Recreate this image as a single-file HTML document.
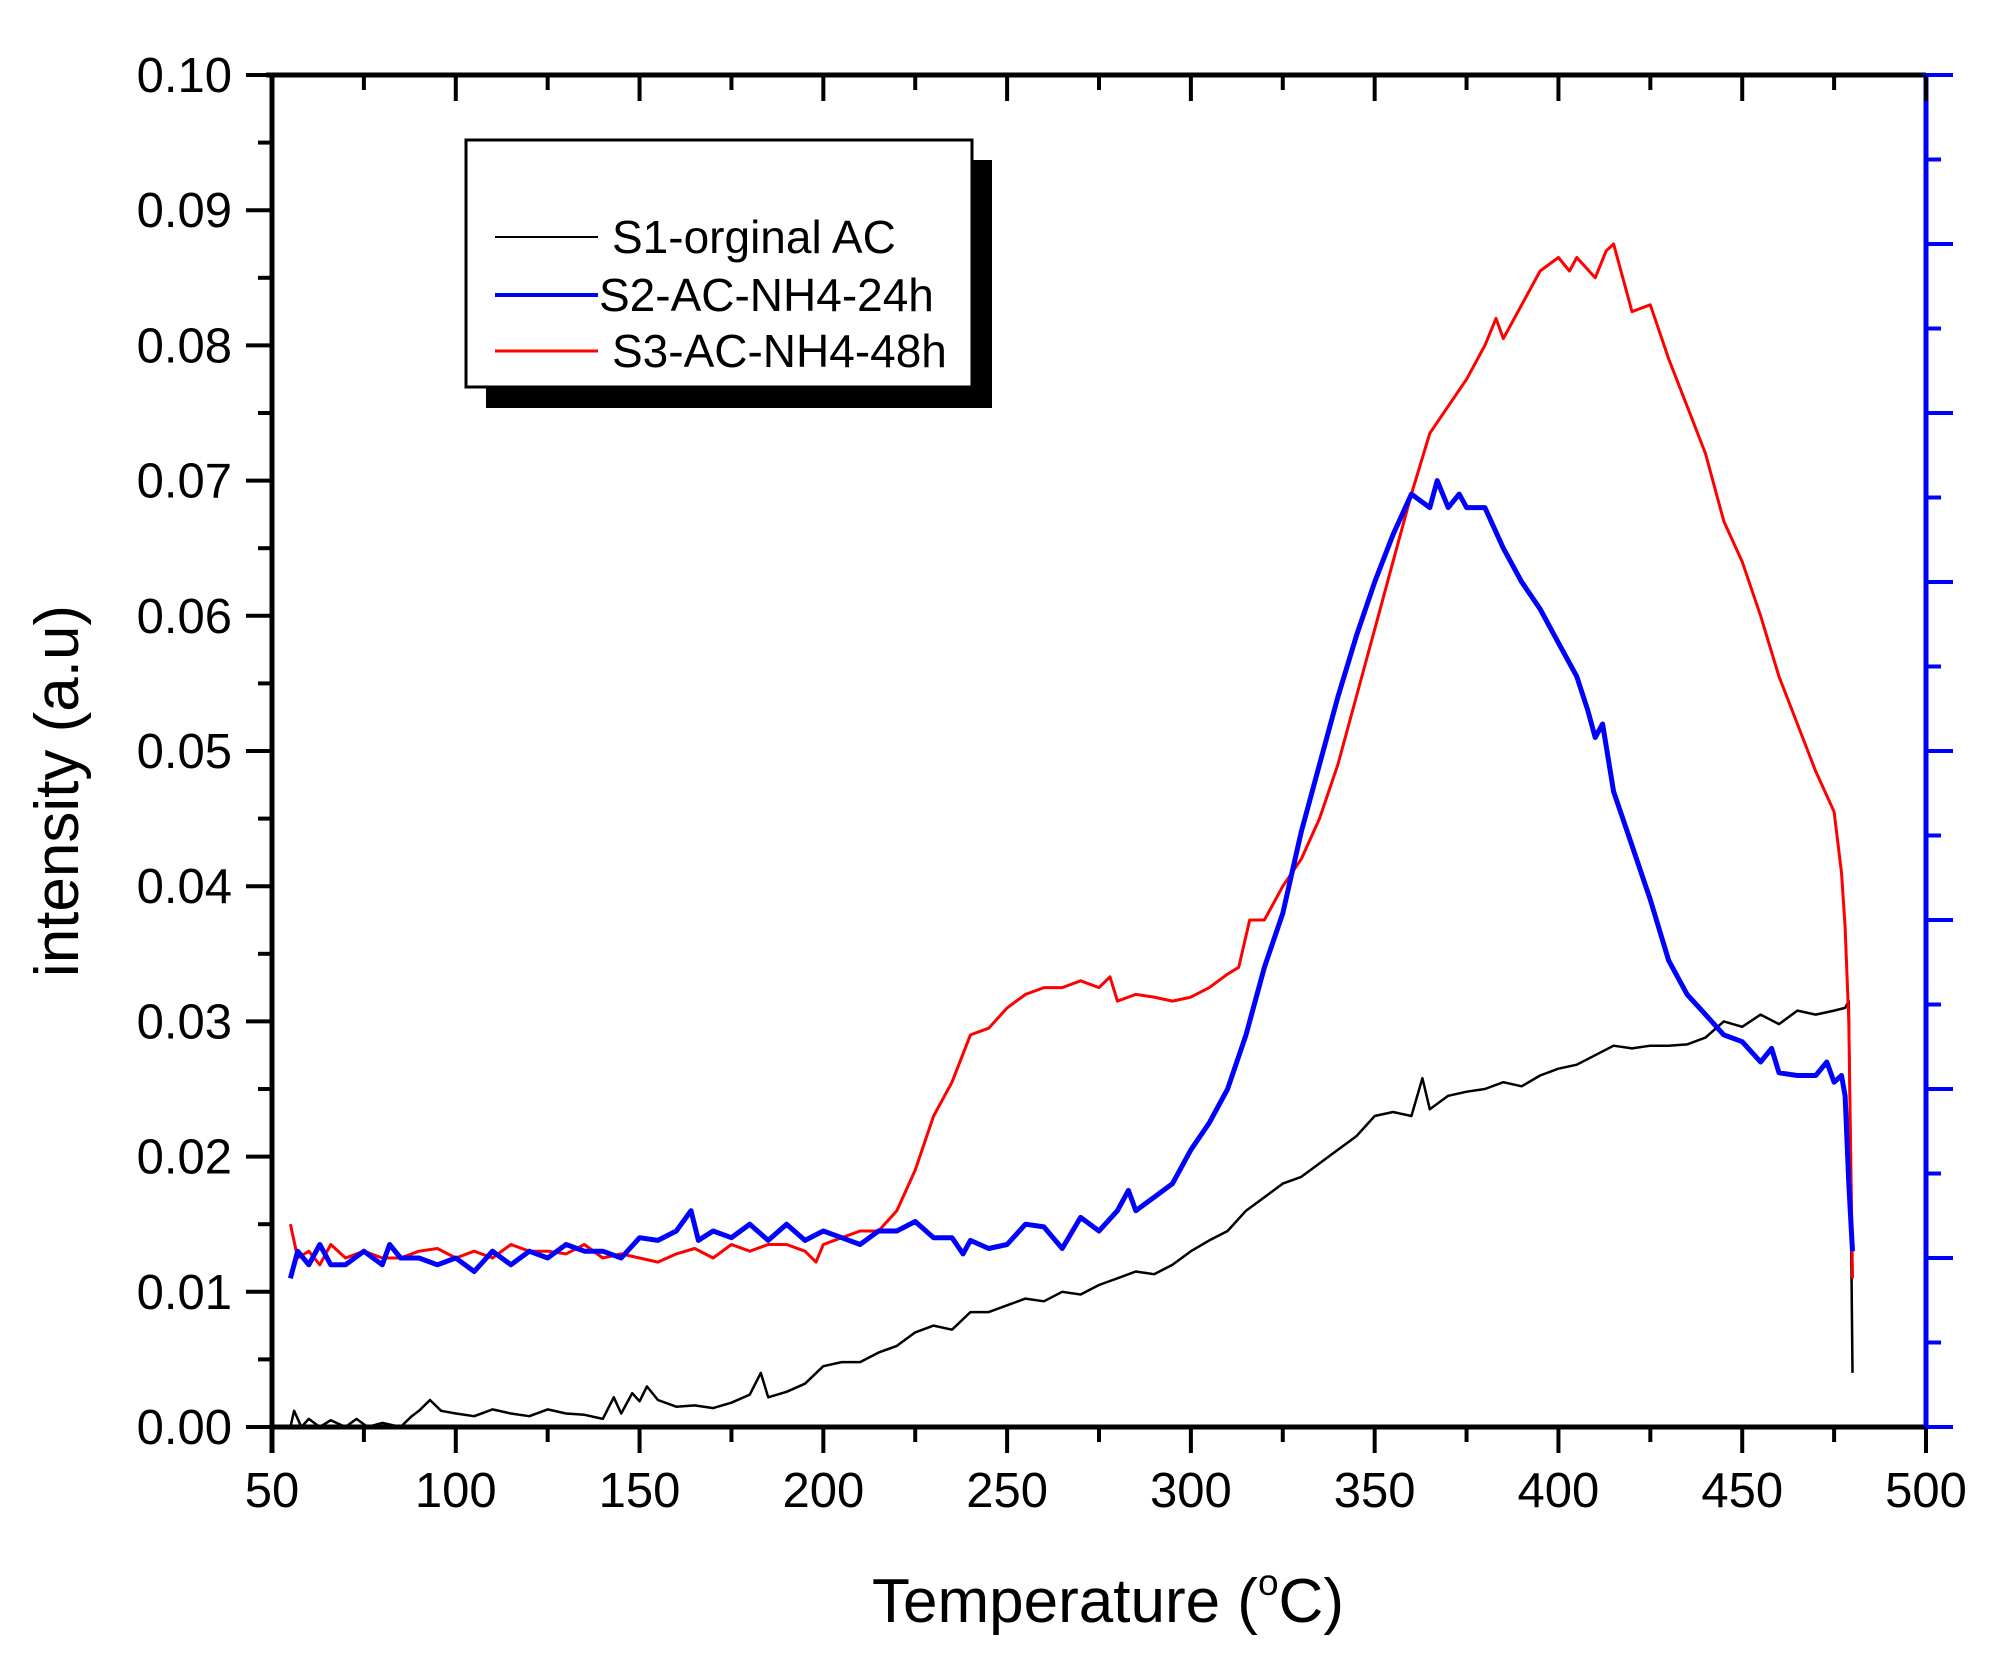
<!DOCTYPE html>
<html><head><meta charset="utf-8">
<style>
html,body{margin:0;padding:0;background:#fff;}
svg{display:block;font-family:"Liberation Sans",Arial,sans-serif;}
</style></head>
<body>
<svg id="chart" width="2008" height="1672" viewBox="0 0 2008 1672" xmlns="http://www.w3.org/2000/svg">
<g id="series"></g>
<g id="axes"></g>
<g>
<rect x="486" y="160" width="506" height="248" fill="#000"/>
<rect x="466" y="140" width="506" height="247" fill="#fff" stroke="#000" stroke-width="3"/>
<line x1="495" y1="237" x2="598" y2="237" stroke="#000" stroke-width="2"/>
<text x="612" y="253" font-size="46">S1-orginal AC</text>
<line x1="495" y1="295" x2="598" y2="295" stroke="#0000ff" stroke-width="4"/>
<text x="599" y="311" font-size="46">S2-AC-NH4-24h</text>
<line x1="495" y1="351" x2="598" y2="351" stroke="#ff0000" stroke-width="3"/>
<text x="612" y="367" font-size="46">S3-AC-NH4-48h</text>
</g>
<text x="1108" y="1622" font-size="62" text-anchor="middle">Temperature (<tspan font-size="37" dy="-27">o</tspan><tspan dy="27">C)</tspan></text>
<text transform="translate(78,791) rotate(-90)" font-size="62" text-anchor="middle">intensity (a.u)</text>
</svg>
<script>
const xTicks=[50,100,150,200,250,300,350,400,450,500];
const yTicks=[0,0.01,0.02,0.03,0.04,0.05,0.06,0.07,0.08,0.09,0.10];
const s1T=[55,56,58,60,63,66,70,73,76,80,85,88,90,93,96,100,105,110,115,120,125,130,135,140,143,145,148,150,152,155,160,165,170,175,180,183,185,190,195,200,205,210,215,220,225,230,235,240,245,250,255,260,265,270,275,280,285,290,295,300,305,310,315,320,325,330,335,340,345,350,355,360,363,365,370,375,380,385,390,395,400,405,410,415,420,425,430,435,440,445,450,455,460,465,470,475,478,479,480];
const s1V=[0,0.0012,0,0.0006,0,0.0005,0,0.0006,0,0.0003,0,0.0008,0.0012,0.002,0.0012,0.001,0.0008,0.0013,0.001,0.0008,0.0013,0.001,0.0009,0.0006,0.0022,0.001,0.0025,0.0019,0.003,0.002,0.0015,0.0016,0.0014,0.0018,0.0024,0.004,0.0022,0.0026,0.0032,0.0045,0.0048,0.0048,0.0055,0.006,0.007,0.0075,0.0072,0.0085,0.0085,0.009,0.0095,0.0093,0.01,0.0098,0.0105,0.011,0.0115,0.0113,0.012,0.013,0.0138,0.0145,0.016,0.017,0.018,0.0185,0.0195,0.0205,0.0215,0.023,0.0233,0.023,0.0258,0.0235,0.0245,0.0248,0.025,0.0255,0.0252,0.026,0.0265,0.0268,0.0275,0.0282,0.028,0.0282,0.0282,0.0283,0.0288,0.03,0.0296,0.0305,0.0298,0.0308,0.0305,0.0308,0.031,0.0315,0.004];
const s2T=[55,57,60,63,66,70,75,80,82,85,90,95,100,105,110,115,120,125,130,135,140,145,150,155,160,164,166,170,175,180,185,190,195,200,205,210,215,220,225,230,235,238,240,245,250,255,260,265,270,275,280,283,285,290,295,300,305,310,315,320,325,330,335,340,345,350,355,360,365,367,370,373,375,380,385,390,395,400,405,408,410,412,415,420,425,430,435,440,445,450,455,458,460,465,470,473,475,477,478,479,480];
const s2V=[0.011,0.013,0.012,0.0135,0.012,0.012,0.013,0.012,0.0135,0.0125,0.0125,0.012,0.0125,0.0115,0.013,0.012,0.013,0.0125,0.0135,0.013,0.013,0.0125,0.014,0.0138,0.0145,0.016,0.0138,0.0145,0.014,0.015,0.0138,0.015,0.0138,0.0145,0.014,0.0135,0.0145,0.0145,0.0152,0.014,0.014,0.0128,0.0138,0.0132,0.0135,0.015,0.0148,0.0132,0.0155,0.0145,0.016,0.0175,0.016,0.017,0.018,0.0205,0.0225,0.025,0.029,0.034,0.038,0.044,0.049,0.054,0.0585,0.0625,0.066,0.069,0.068,0.070,0.068,0.069,0.068,0.068,0.065,0.0625,0.0605,0.058,0.0555,0.053,0.051,0.052,0.047,0.043,0.039,0.0345,0.032,0.0305,0.029,0.0285,0.027,0.028,0.0262,0.026,0.026,0.027,0.0255,0.026,0.0245,0.018,0.013];
const s3T=[55,57,60,63,66,70,75,80,85,90,95,100,105,110,115,120,125,130,135,140,145,150,155,160,165,170,175,180,185,190,195,198,200,205,210,215,220,225,230,235,240,245,250,255,260,265,270,275,278,280,285,290,295,300,305,310,313,316,320,325,330,335,340,345,350,355,360,365,370,375,380,383,385,390,395,400,403,405,410,413,415,420,425,430,435,440,445,450,455,460,465,470,475,477,478,479,480];
const s3V=[0.015,0.0125,0.013,0.012,0.0135,0.0125,0.013,0.0125,0.0125,0.013,0.0132,0.0125,0.013,0.0125,0.0135,0.013,0.013,0.0128,0.0135,0.0125,0.0128,0.0125,0.0122,0.0128,0.0132,0.0125,0.0135,0.013,0.0135,0.0135,0.013,0.0122,0.0135,0.014,0.0145,0.0145,0.016,0.019,0.023,0.0255,0.029,0.0295,0.031,0.032,0.0325,0.0325,0.033,0.0325,0.0333,0.0315,0.032,0.0318,0.0315,0.0318,0.0325,0.0335,0.034,0.0375,0.0375,0.04,0.042,0.045,0.049,0.054,0.059,0.064,0.069,0.0735,0.0755,0.0775,0.080,0.082,0.0805,0.083,0.0855,0.0865,0.0855,0.0865,0.085,0.087,0.0875,0.0825,0.083,0.079,0.0755,0.072,0.067,0.064,0.060,0.0555,0.052,0.0485,0.0455,0.041,0.037,0.030,0.011];

const NS="http://www.w3.org/2000/svg";
const X0=272,X1=1926,Y0=1427,Y1=75;
function xs(v){return X0+(v-50)/450*(X1-X0);}
function ys(v){return Y0-v/0.10*(Y0-Y1);}
function mk(tag,attrs,parent){const e=document.createElementNS(NS,tag);for(const k in attrs)e.setAttribute(k,attrs[k]);parent.appendChild(e);return e;}
const ser=document.getElementById('series'),ax=document.getElementById('axes');
function drawLine(T,V,color,w,name){
  let d='';
  for(let i=0;i<T.length;i++){d+=(i?'L':'M')+xs(T[i]).toFixed(1)+','+ys(V[i]).toFixed(1);}
  const p=mk('path',{d:d,fill:'none',stroke:color,'stroke-width':w,'stroke-linejoin':'round'},ser);
  
  
}
drawLine(s1T,s1V,'#000',2.5,'series-s1-orginal-ac');
drawLine(s3T,s3V,'#ff0000',3,'series-s3-ac-nh4-48h');
drawLine(s2T,s2V,'#0000ff',5,'series-s2-ac-nh4-24h');

const b=mk('line',{x1:X0,y1:Y0,x2:X1,y2:Y0,stroke:'#000','stroke-width':5},ax);


const t=mk('line',{x1:X0-6,y1:Y1,x2:X1,y2:Y1,stroke:'#000','stroke-width':5},ax);


const l=mk('line',{x1:X0,y1:Y1,x2:X0,y2:Y0+26,stroke:'#000','stroke-width':5},ax);


const r=mk('line',{x1:X1,y1:Y1-2,x2:X1,y2:Y0,stroke:'#0000ff','stroke-width':5},ax);



for(let v=50;v<=500;v+=25){
  const major=(v%50===0);
  const x=xs(v);
  const tk=mk('line',{x1:x,y1:Y0,x2:x,y2:Y0+(major?26:15),stroke:'#000','stroke-width':4},ax);
  
  
  const tt=mk('line',{x1:x,y1:Y1,x2:x,y2:Y1+(major?26:15),stroke:'#000','stroke-width':4},ax);
  
  
}
xTicks.forEach(v=>{
  const tx=mk('text',{x:xs(v),y:Y0+80,'font-size':49,'text-anchor':'middle'},ax);
  tx.textContent=String(v);
  
  
});
for(let i=0;i<=20;i++){
  const v=i*0.005,major=(i%2===0),y=ys(v);
  const tk=mk('line',{x1:X0-(major?26:14),y1:y,x2:X0,y2:y,stroke:'#000','stroke-width':4},ax);
  
  
}
yTicks.forEach(v=>{
  const tx=mk('text',{x:232,y:ys(v)+17,'font-size':49,'text-anchor':'end'},ax);
  tx.textContent=v.toFixed(2);
  
  
});
for(let i=0;i<=16;i++){
  const y=Y0-i*(Y0-Y1)/16,major=(i%2===0);
  const tk=mk('line',{x1:X1,y1:y,x2:X1+(major?27:15),y2:y,stroke:'#0000ff','stroke-width':4},ax);
  
  
}
</script>
</body></html>
